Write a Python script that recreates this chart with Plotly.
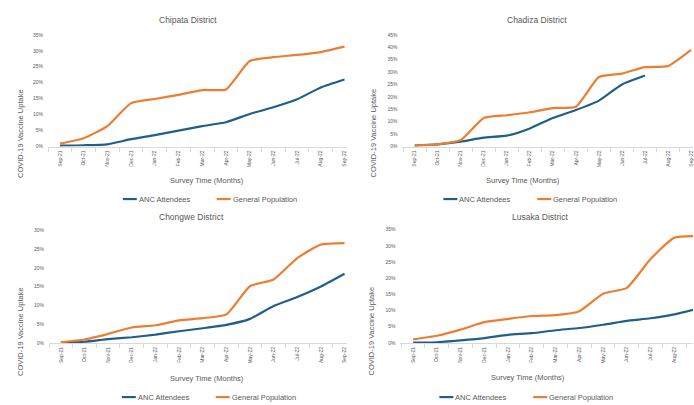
import plotly.graph_objects as go

# Survey months (categorical x axis)
months = ["Sep-21", "Oct-21", "Nov-21", "Dec-21", "Jan-22", "Feb-22", "Mar-22",
          "Apr-22", "May-22", "Jun-22", "Jul-22", "Aug-22", "Sep-22"]

# COVID-19 vaccine uptake (fraction) by district
chipata_anc = [0.003, 0.004, 0.007, 0.023, 0.036, 0.050, 0.064, 0.076, 0.102, 0.123, 0.148, 0.185, 0.210]
chipata_gen = [0.009, 0.026, 0.064, 0.136, 0.149, 0.162, 0.177, 0.179, 0.268, 0.280, 0.287, 0.296, 0.313]

chadiza_anc = [0.004, 0.009, 0.020, 0.036, 0.044, 0.073, 0.115, 0.147, 0.185, 0.250, 0.286, None, None]
chadiza_gen = [0.004, 0.009, 0.026, 0.115, 0.126, 0.138, 0.155, 0.160, 0.280, 0.294, 0.320, 0.324, 0.389]

chongwe_anc = [0.001, 0.003, 0.010, 0.015, 0.022, 0.031, 0.039, 0.048, 0.064, 0.098, 0.122, 0.150, 0.184]
chongwe_gen = [0.002, 0.009, 0.024, 0.041, 0.047, 0.060, 0.066, 0.076, 0.151, 0.169, 0.226, 0.262, 0.266]

lusaka_anc = [0.001, 0.002, 0.008, 0.015, 0.025, 0.030, 0.039, 0.046, 0.056, 0.068, 0.076, 0.088, 0.106]
lusaka_gen = [0.011, 0.022, 0.041, 0.064, 0.074, 0.083, 0.086, 0.098, 0.152, 0.170, 0.259, 0.325, 0.330]

titles = ["Chipata District", "Chadiza District", "Chongwe District", "Lusaka District"]
y_max = [0.35, 0.45, 0.30, 0.35]
series_names = ["ANC Attendees", "General Population"]

BLUE = "#1F5F8B"
ORANGE = "#ED7D31"
TEXT = "#595959"
AXIS = "#D9D9D9"
FONT = "Liberation Sans, Arial, sans-serif"

W, H = 694, 405


def px(x):
    return x / W


def py(y):
    return 1 - y / H


# Panel geometry in pixels: first-category x, category spacing,
# plot left/right edges, y of the 0% baseline and of the top tick.
panels = [
    dict(x0=60.0, dx=23.75, L=48, R=347, y0=145.7, y1=32.3),
    dict(x0=415.3, dx=23.06, L=403, R=694, y0=145.7, y1=32.3),
    dict(x0=61.0, dx=23.67, L=49, R=347, y0=345.0, y1=230.7),
    dict(x0=413.7, dx=23.78, L=401, R=694, y0=345.0, y1=230.0),
]
# Centres for titles, axis titles and legends
title_pos = [(188, 17), (538, 17), (192, 217), (541, 217)]
ytitle_pos = [(20, 132), (374, 132), (20, 333), (372, 333)]
xtitle_pos = [(207, 180), (524, 180), (207, 381), (529, 380)]
legend_pos = [(123, 199), (444, 199), (122, 400), (440, 400)]

data = [
    (chipata_anc, chipata_gen),
    (chadiza_anc, chadiza_gen),
    (chongwe_anc, chongwe_gen),
    (lusaka_anc, lusaka_gen),
]

fig = go.Figure()
layout = dict(
    width=W, height=H,
    margin=dict(l=0, r=0, t=0, b=0),
    paper_bgcolor="white", plot_bgcolor="white",
    showlegend=False,
    font=dict(family=FONT, color=TEXT),
)
annotations = []
shapes = []

for i, (anc, gen) in enumerate(data):
    p = panels[i]
    xa = "x" if i == 0 else f"x{i + 1}"
    ya = "y" if i == 0 else f"y{i + 1}"
    for vals, name, color in ((anc, series_names[0], BLUE), (gen, series_names[1], ORANGE)):
        fig.add_trace(go.Scatter(
            x=months, y=vals, name=name, mode="lines",
            line=dict(color=color, width=2.2, shape="spline", smoothing=0.5),
            xaxis=xa, yaxis=ya, hoverinfo="x+y+name",
        ))

    xr = [(p["L"] - p["x0"]) / p["dx"], (p["R"] - p["x0"]) / p["dx"]]
    key = "" if i == 0 else str(i + 1)
    layout["xaxis" + key] = dict(
        type="category", categoryorder="array", categoryarray=months,
        domain=[px(p["L"]), px(p["R"])], range=xr, anchor=ya,
        showgrid=False, zeroline=False,
        showline=True, linecolor=AXIS, linewidth=1,
        ticks="outside", tickson="boundaries", ticklen=4, tickcolor=AXIS,
        tickangle=-90, tickfont=dict(size=5, color=TEXT, family=FONT),
        ticklabelstandoff=1,
    )
    layout["yaxis" + key] = dict(
        domain=[py(p["y0"]), py(p["y1"])], range=[0, y_max[i]], anchor=xa,
        dtick=0.05, tickformat=".0%", showgrid=False, zeroline=False,
        showline=False, ticks="", tickfont=dict(size=5, color=TEXT, family=FONT),
        ticklabelstandoff=4,
    )

    tx, ty = title_pos[i]
    annotations.append(dict(text=titles[i], x=px(tx), y=py(ty), xref="paper", yref="paper",
                            showarrow=False, font=dict(size=8.5, color=TEXT),
                            xanchor="center", yanchor="middle"))
    yx, yy = ytitle_pos[i]
    annotations.append(dict(text="COVID-19 Vaccine Uptake", x=px(yx), y=py(yy), xref="paper",
                            yref="paper", showarrow=False, textangle=-90,
                            font=dict(size=7.5, color=TEXT), xanchor="center", yanchor="middle"))
    xx, xy = xtitle_pos[i]
    annotations.append(dict(text="Survey Time (Months)", x=px(xx), y=py(xy), xref="paper",
                            yref="paper", showarrow=False, font=dict(size=7.5, color=TEXT),
                            xanchor="center", yanchor="middle"))

    # Legend: short line swatch followed by the series label
    lx, ly = legend_pos[i]
    for j, (name, color) in enumerate(((series_names[0], BLUE), (series_names[1], ORANGE))):
        sx = lx + j * 94
        shapes.append(dict(type="line", xref="paper", yref="paper",
                           x0=px(sx), x1=px(sx + 14), y0=py(ly), y1=py(ly),
                           line=dict(color=color, width=2.2)))
        annotations.append(dict(text=name, x=px(sx + 14), y=py(ly), xref="paper", yref="paper",
                                showarrow=False, font=dict(size=7.5, color=TEXT),
                                xanchor="left", yanchor="middle"))

layout["annotations"] = annotations
layout["shapes"] = shapes
fig.update_layout(**layout)
fig.write_html("out.html")
